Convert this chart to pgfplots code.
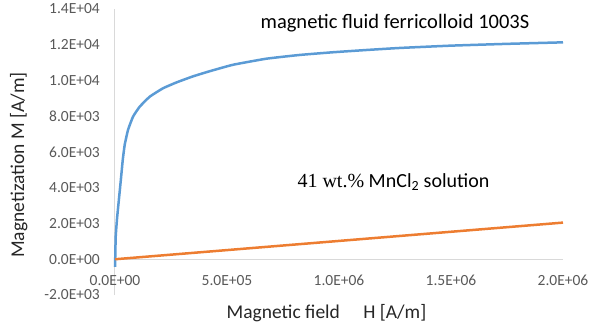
\documentclass[border=0pt]{standalone}
\usepackage{fontspec}
\setmainfont{Carlito}
\newfontfamily\seriffont{Liberation Serif}
\usepackage{pgfplots}
\pgfplotsset{compat=1.18}
\definecolor{tickgray}{HTML}{595959}
\definecolor{axgray}{HTML}{D9D9D9}
\definecolor{titlegray}{HTML}{262626}
\definecolor{mblue}{HTML}{5B9BD5}
\definecolor{morange}{HTML}{ED7D31}
\begin{document}
\begin{tikzpicture}
\useasboundingbox (-115bp,-38bp) rectangle (478bp,295bp);
\begin{axis}[
  at={(0,0)}, anchor=south west,
  scale only axis, width=448bp, height=286bp,
  xmin=0, xmax=2000000, ymin=-2000, ymax=14000,
  axis y line=left, axis x line=middle,
  axis line style={draw=axgray, line width=1bp, -},
  hide obscured x ticks=false, hide obscured y ticks=false,
  major tick length=0pt,
  scaled ticks=false,
  xtick={0,500000,1000000,1500000,2000000},
  xticklabels={0.0E+00,5.0E+05,1.0E+06,1.5E+06,2.0E+06},
  ytick={-2000,0,2000,4000,6000,8000,10000,12000,14000},
  yticklabels={-2.0E+03,0.0E+00,2.0E+03,4.0E+03,6.0E+03,8.0E+03,1.0E+04,1.2E+04,1.4E+04},
  tick label style={font=\fontsize{15.5bp}{17bp}\selectfont, text=tickgray, inner sep=0pt},
  xticklabel style={anchor=north, yshift=-16bp},
  yticklabel style={anchor=east, xshift=-15bp},
  clip=false,
]
\addplot[mblue, line width=2.5bp, line join=round, smooth, tension=0.25] coordinates {
(0,-430) (1500,300) (3100,1260) (8900,2250) (17900,3400) (25000,4300)
(30000,4950) (35000,5600) (43300,6400) (58000,7230) (80400,7975)
(110300,8535) (155000,9094) (214000,9563) (274000,9890) (348000,10230)
(423000,10520) (527000,10880) (676000,11220) (825000,11430) (973000,11580)
(1122000,11706) (1271000,11820) (1500000,11950) (1750000,12050) (2000000,12135)
};
\addplot[morange, line width=2.5bp] coordinates {(0,0) (2000000,2050)};
\node[font=\fontsize{20.5bp}{24bp}\selectfont, text=black] at (rel axis cs:0.625,0.951) {magnetic fluid ferricolloid 1003S};
\node[font=\fontsize{20bp}{24bp}\selectfont, text=black] at (rel axis cs:0.6216,0.395) {{\seriffont 41\ wt.\%} MnCl\textsubscript{2} solution};
\node[font=\fontsize{19.5bp}{22bp}\selectfont, text=titlegray] at (rel axis cs:0.472,-0.063) {Magnetic field\hspace{1.2em}H [A/m]};
\node[font=\fontsize{19.5bp}{22bp}\selectfont, text=titlegray, rotate=90] at (rel axis cs:-0.2148,0.4545) {Magnetization M [A/m]};
\end{axis}
\end{tikzpicture}
\end{document}
